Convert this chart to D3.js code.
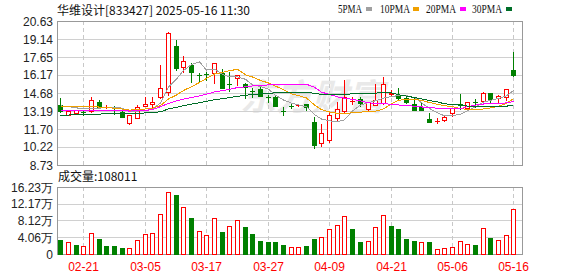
<!DOCTYPE html>
<html><head><meta charset="utf-8">
<script src="https://cdn.jsdelivr.net/npm/d3@7/dist/d3.min.js"></script>
<style>body{margin:0;background:#fff}svg{display:block}</style>
</head><body><svg id="c" width="578" height="276"></svg>
<script>
const title = "华维设计[833427] 2025-05-16 11:30";
const volTitle = "成交量:108011";
const dates = ["02-18","02-19","02-20","02-21","02-24","02-25","02-26","02-27","02-28","03-03","03-04","03-05","03-06","03-07","03-10","03-11","03-12","03-13","03-14","03-17","03-18","03-19","03-20","03-21","03-24","03-25","03-26","03-27","03-28","03-31","04-01","04-02","04-03","04-07","04-08","04-09","04-10","04-11","04-14","04-15","04-16","04-17","04-18","04-21","04-22","04-23","04-24","04-25","04-28","04-29","04-30","05-06","05-07","05-08","05-09","05-12","05-13","05-14","05-15","05-16"];
const open  = [13.69,12.88,13.03,13.12,13.19,13.91,13.50,13.30,13.08,12.17,12.64,13.63,13.74,14.38,14.75,18.60,16.80,16.99,16.19,16.24,16.30,16.30,15.43,15.95,15.42,14.86,14.98,14.33,14.38,13.23,13.61,13.70,13.77,12.31,10.52,10.80,12.64,13.22,14.02,14.18,13.33,13.69,13.88,14.63,14.45,14.28,13.74,13.55,12.53,12.38,12.45,13.05,13.73,13.42,13.97,14.04,14.65,14.24,14.32,16.58];
const high  = [14.29,13.22,13.30,13.30,14.38,14.10,13.70,13.63,13.28,12.90,13.66,14.38,14.38,16.99,19.75,19.06,17.74,17.13,16.36,16.40,17.15,16.66,16.39,16.19,15.53,15.07,15.20,14.51,14.45,13.55,13.75,13.78,13.80,12.72,12.12,13.14,13.96,15.75,14.38,14.38,13.95,15.42,16.03,14.90,15.07,14.43,14.24,13.93,13.05,12.59,12.80,13.45,14.60,13.93,14.16,14.79,14.70,14.50,15.00,18.04];
const low   = [13.08,12.83,13.00,12.85,13.08,13.41,13.40,12.92,12.70,12.15,12.60,13.60,13.55,14.30,14.50,16.58,16.39,15.62,15.67,15.75,15.53,15.07,14.85,15.34,14.24,14.38,14.40,13.96,13.60,12.86,13.40,13.62,13.28,10.11,10.30,10.66,12.45,13.00,13.77,13.61,13.25,13.65,13.77,14.50,14.20,13.85,13.25,13.25,12.28,12.18,12.40,12.75,13.33,13.40,13.55,13.83,13.96,13.83,14.10,16.10];
const close = [13.19,13.19,13.25,13.10,14.07,13.52,13.53,13.28,12.72,12.86,13.50,13.80,13.94,15.12,19.60,16.72,17.32,16.44,16.17,16.22,17.13,15.12,15.42,16.17,15.20,14.85,14.46,14.32,13.63,13.22,13.60,13.72,13.55,10.38,11.40,12.86,13.33,14.32,14.05,13.83,13.91,14.10,15.42,14.65,14.25,13.90,13.27,13.28,12.31,12.40,12.70,13.42,13.72,13.91,13.95,14.65,14.16,14.46,14.99,16.17];
const volume = [3.5,3.0,2.3,2.0,5.1,3.6,2.0,2.0,1.55,1.55,3.4,4.8,5.1,9.6,15.0,14.3,11.5,8.6,5.5,4.6,8.6,5.4,6.7,8.2,6.6,4.9,3.2,3.0,3.0,2.3,1.7,1.7,2.0,3.7,4.1,6.0,7.0,9.1,6.1,3.0,3.2,6.5,9.4,6.8,6.1,3.7,3.2,3.0,3.0,1.2,1.5,1.7,3.2,2.4,2.3,6.3,3.9,3.5,4.6,10.8];
const volUp = [0,1,0,1,1,0,0,0,0,1,1,1,1,1,1,0,1,0,1,1,1,0,1,1,0,0,0,0,0,0,1,1,0,0,1,1,1,1,0,0,1,1,1,0,0,0,0,1,0,1,1,1,1,1,0,1,0,1,1,1];
const ma5  = [13.62,13.55,13.45,13.38,13.36,13.43,13.49,13.50,13.42,13.18,13.18,13.23,13.36,13.84,15.19,15.84,16.54,17.04,17.25,16.57,16.66,16.22,16.01,16.01,15.81,15.35,15.22,15.00,14.49,14.10,13.85,13.70,13.54,12.89,12.53,12.38,12.30,12.46,13.19,13.68,13.89,14.04,14.26,14.38,14.47,14.46,14.30,13.87,13.40,13.03,12.79,12.82,12.91,13.23,13.54,13.93,14.08,14.23,14.44,14.89];
const ma10 = [13.55,13.55,13.55,13.54,13.54,13.52,13.48,13.42,13.35,13.27,13.30,13.36,13.43,13.63,14.19,14.51,14.89,15.20,15.55,15.88,16.25,16.38,16.53,16.63,16.19,16.00,15.72,15.51,15.25,14.95,14.60,14.46,14.27,13.69,13.31,13.11,13.00,13.00,13.04,13.10,13.14,13.17,13.36,13.79,14.07,14.18,14.17,14.07,13.89,13.75,13.63,13.56,13.39,13.32,13.29,13.36,13.45,13.57,13.84,14.21];
const ma20 = [13.20,13.20,13.20,13.20,13.21,13.21,13.21,13.21,13.20,13.19,13.20,13.24,13.32,13.55,13.82,14.02,14.17,14.30,14.44,14.58,14.77,14.87,14.98,15.13,15.19,15.26,15.30,15.35,15.40,15.42,15.42,15.42,15.40,15.16,14.75,14.56,14.36,14.25,14.15,14.03,13.87,13.82,13.82,13.74,13.69,13.65,13.59,13.53,13.47,13.43,13.38,13.37,13.38,13.55,13.68,13.77,13.81,13.82,13.86,13.98];
const ma30 = [12.85,12.86,12.88,12.89,12.92,12.94,12.96,12.98,12.98,12.99,13.01,13.03,13.05,13.13,13.36,13.49,13.64,13.76,13.87,13.99,14.13,14.21,14.29,14.41,14.49,14.55,14.61,14.66,14.69,14.70,14.72,14.73,14.74,14.65,14.56,14.54,14.54,14.57,14.61,14.65,14.66,14.67,14.72,14.70,14.53,14.43,14.30,14.19,14.06,13.94,13.79,13.73,13.67,13.60,13.56,13.55,13.54,13.55,13.59,13.69];
const priceTicks = [8.73,10.22,11.70,13.19,14.68,16.17,17.65,19.14,20.63];
const volTicks = [0,4.06,8.12,12.17,16.23];
const volTickLabels = ["0","4.06万","8.12万","12.17万","16.23万"];
const dateTicks = ["02-21","03-05","03-17","03-27","04-09","04-21","05-06","05-16"];
const maNames = ["5PMA","10PMA","20PMA","30PMA"];
const maColors = ["#a0a0a0","#f0a000","#ff00ff","#006e28"];

const svg = d3.select("#c");
const L = 57, R = 522, PT = 21, PB = 165, VT = 187, VB = 254;
const x = d3.scaleBand().domain(dates).range([56.5, 517.3]).padding(0);
const cx = d => Math.round(x(d) + x.bandwidth()/2);
const y = d3.scaleLinear().domain([8.73, 20.63]).range([PB, PT]);
const yv = d3.scaleLinear().domain([0, 16.23]).range([VB, VT]);
const RED = "#ff0000", GRN = "#008000";
const font = "'Liberation Sans', Arial, sans-serif";
const cjk = "'Noto Sans CJK SC', sans-serif";

// watermark
svg.append("text").attr("x", 240).attr("y", 110).text("东方财富")
  .attr("font-family", cjk).attr("font-size", 36).attr("font-weight", "bold")
  .attr("font-style", "italic").attr("fill", "#e9e9e9");

// grids
function panel(top, bottom, ticks, scale) {
  const g = svg.append("g");
  g.selectAll("line.h").data(ticks).join("line")
    .attr("x1", L).attr("x2", R)
    .attr("y1", d => Math.round(scale(d)) + 0.5).attr("y2", d => Math.round(scale(d)) + 0.5)
    .attr("stroke", "#d0d0d0");
  g.selectAll("line.v").data(dateTicks).join("line")
    .attr("x1", d => cx(d) + 0.5).attr("x2", d => cx(d) + 0.5)
    .attr("y1", top).attr("y2", bottom)
    .attr("stroke", "#c8c8c8").attr("stroke-dasharray", "4,3");
  g.append("rect").attr("x", L + 0.5).attr("y", top + 0.5)
    .attr("width", R - L).attr("height", bottom - top)
    .attr("fill", "none").attr("stroke", "#999");
}
panel(PT, PB, priceTicks, y);
panel(VT, VB, volTicks, yv);

// y labels
svg.append("g").selectAll("text").data(priceTicks).join("text")
  .attr("x", 53).attr("y", d => y(d) + 4.5).attr("text-anchor", "end")
  .attr("font-family", font).attr("font-size", 12).attr("fill", "#222")
  .text(d => d.toFixed(2));
svg.append("g").selectAll("text").data(volTicks).join("text")
  .attr("x", 53).attr("y", d => yv(d) + 4.5).attr("text-anchor", "end")
  .attr("font-family", font).attr("font-size", 12).attr("fill", "#222")
  .text((d, i) => volTickLabels[i]);

// x labels
svg.append("g").selectAll("text").data(dateTicks).join("text")
  .attr("x", d => cx(d) + 0.5).attr("y", 271).attr("text-anchor", "middle")
  .attr("font-family", font).attr("font-size", 12).attr("fill", RED)
  .text(d => d);

// title & legend
svg.append("text").attr("x", 57).attr("y", 15).text(title)
  .attr("font-family", cjk).attr("font-size", 12).attr("fill", "#111");
svg.append("text").attr("x", 58).attr("y", 181).text(volTitle)
  .attr("font-family", cjk).attr("font-size", 12).attr("fill", "#111");
const legX = [338, 380, 426, 472], legSq = [366, 413, 460, 506], legW = [24, 30, 30, 30];
maNames.forEach((n, i) => {
  svg.append("text").attr("x", legX[i]).attr("y", 13).text(n)
    .attr("font-family", "'Liberation Serif', serif").attr("font-size", 12).attr("fill", "#111")
    .attr("textLength", legW[i]).attr("lengthAdjust", "spacingAndGlyphs");
  svg.append("rect").attr("x", legSq[i]).attr("y", 7).attr("width", 6).attr("height", 4)
    .attr("fill", maColors[i]);
});

// candles
const idx = d3.range(dates.length);
const cg = svg.append("g");
idx.forEach(i => {
  const c = cx(dates[i]);
  const up = close[i] > open[i];
  const col = up ? RED : GRN;
  const yt = Math.round(y(Math.max(open[i], close[i])));
  const yb = Math.round(y(Math.min(open[i], close[i])));
  cg.append("line").attr("x1", c + 0.5).attr("x2", c + 0.5)
    .attr("y1", Math.round(y(high[i]))).attr("y2", Math.round(y(low[i])) + 1)
    .attr("stroke", col);
  if (up) {
    if (yb - yt < 1) {
      cg.append("rect").attr("x", c - 2).attr("y", yt).attr("width", 5).attr("height", 1).attr("fill", col);
    } else {
      cg.append("rect").attr("x", c - 1.5).attr("y", yt + 0.5).attr("width", 4).attr("height", yb - yt)
        .attr("fill", "#fff").attr("stroke", col);
    }
  } else {
    cg.append("rect").attr("x", c - 2).attr("y", yt).attr("width", 5).attr("height", Math.max(1, yb - yt + 1))
      .attr("fill", col);
  }
});

// moving averages
[ma5, ma10, ma20, ma30].forEach((arr, k) => {
  svg.append("path").datum(idx)
    .attr("d", d3.line().x(i => cx(dates[i]) + 0.5).y(i => y(arr[i])))
    .attr("fill", "none").attr("stroke", maColors[k]).attr("stroke-width", 1)
    .attr("shape-rendering", "crispEdges");
});

// volume bars
const vg = svg.append("g");
idx.forEach(i => {
  const c = cx(dates[i]);
  const top = Math.round(yv(volume[i]));
  if (volUp[i]) {
    vg.append("rect").attr("x", c - 1.5).attr("y", top + 0.5).attr("width", 4).attr("height", VB - top)
      .attr("fill", "#fff").attr("stroke", RED);
  } else {
    vg.append("rect").attr("x", c - 2).attr("y", top).attr("width", 5).attr("height", VB - top + 1)
      .attr("fill", GRN);
  }
});
</script></body></html>
